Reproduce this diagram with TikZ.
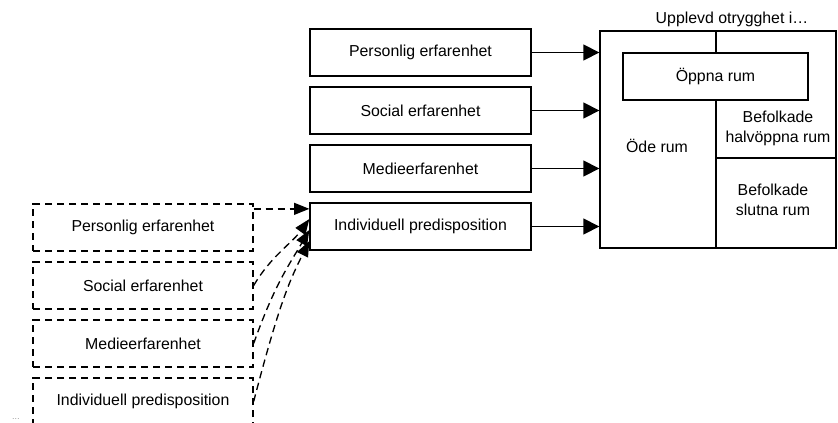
\documentclass[tikz,border=0pt]{standalone}
\usepackage{fontspec}
\setmainfont{Liberation Sans}
\usetikzlibrary{arrows.meta, positioning}

\begin{document}
\begin{tikzpicture}[
        x=0.75pt, y=-0.75pt,
        node distance=7.25pt,
        every node/.style={font=\fontsize{11.9}{15}\selectfont},
        factor/.style={draw, line width=1pt, minimum width=165.75pt, minimum height=35.25pt},
        earlier/.style={factor, dashed, dash pattern=on 5.5pt off 3.5pt, minimum width=165pt},
        link/.style={-{Triangle[length=12pt, width=12pt]}, line width=1pt},
        backlink/.style={-{Triangle[length=11.5pt, width=9pt]}, line width=1pt, dash pattern=on 5.5pt off 3.5pt}
    ]
    \useasboundingbox (0,0) rectangle (838,422);

    % the four factors
    \node [factor] (p1) at (420.5,52.5) {Personlig erfarenhet};
    \node [factor, below=of p1] (p2) {Social erfarenhet};
    \node [factor, below=of p2] (p3) {Medieerfarenhet};
    \node [factor, below=of p3] (p4) {Individuell predisposition};

    % earlier experiences
    \node [earlier] (d1) at (143,227.5) {Personlig erfarenhet};
    \node [earlier, below=of d1] (d2) {Social erfarenhet};
    \node [earlier, below=of d2] (d3) {Medieerfarenhet};
    \node [earlier, below=of d3] (d4) {Individuell predisposition};
    \node [anchor=base, font=\fontsize{6}{7}\selectfont, text=gray] (more) at (16,419) {\dots};

    % rooms
    \node [draw, line width=1pt, minimum width=177pt, minimum height=162.75pt] (rooms) at (718,139.5) {};
    \node (title) at (732,19) {Upplevd otrygghet i…};
    \coordinate (split) at (716,158);
    \draw [line width=1pt] (split |- rooms.north) -- (split |- rooms.south);
    \draw [line width=1pt] (split) -- (split -| rooms.east);
    \node [factor, fill=white, minimum width=138.75pt] (open) at (715.5,76.5) {Öppna rum};
    \node (desert) at (657,146) {Öde rum};
    \node [align=center] (semi) at (778,128) {Befolkade\\halvöppna rum};
    \node [align=center] (closed) at (773,200) {Befolkade\\slutna rum};

    \foreach \i in {1,...,4}
        \draw [link] (p\i) -- (p\i -| rooms.west);

    \draw [backlink] ([yshift=14pt]d1.east) -- ([yshift=14pt]d1.east -| p4.west);
    \draw [backlink] (d2.east) .. controls +(13pt,22pt) and +(-13pt,-18pt) .. ([yshift=5.6pt]p4.west);
    \draw [backlink] (d3.east) .. controls +(16pt,45pt) and +(-15pt,-26pt) .. ([yshift=-2.6pt]p4.west);
    \draw [backlink] (d4.east) .. controls +(19pt,73pt) and +(-15pt,-30pt) .. ([yshift=-10.9pt]p4.west);
\end{tikzpicture}
\end{document}
